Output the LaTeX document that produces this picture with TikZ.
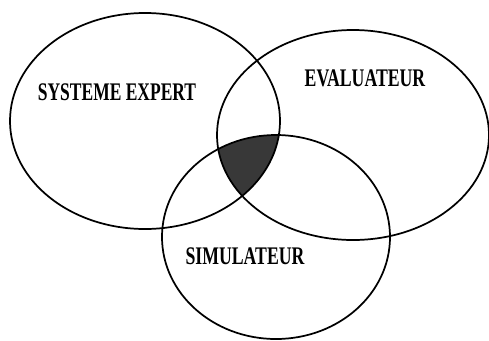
\documentclass[tikz,border=0pt]{standalone}
\usepackage{fontspec}
\setmainfont{Liberation Serif}
\begin{document}
\begin{tikzpicture}[x=0.75pt,y=-0.75pt,
  ring/.style={draw=black,line width=1.3pt},
  lbl/.style={font=\fontsize{19}{21}\selectfont\bfseries,inner sep=0pt}]
\useasboundingbox (0,0) rectangle (489,340);
% shaded triple intersection
\begin{scope}
  \clip (145,121) ellipse [x radius=135, y radius=108];
  \clip (353,135) ellipse [x radius=136, y radius=105];
  \fill[black!78] (276,237) ellipse [x radius=114, y radius=102];
\end{scope}
\draw[ring] (145,121) ellipse [x radius=135, y radius=108];
\draw[ring] (353,135) ellipse [x radius=136, y radius=105];
\draw[ring] (276,237) ellipse [x radius=114, y radius=102];
\node[lbl] (se) at (117,92) {\scalebox{0.69}[1]{SYSTEME EXPERT}};
\node[lbl] (ev) at (365,78) {\scalebox{0.7}[1]{EVALUATEUR}};
\node[lbl] (si) at (245,256) {\scalebox{0.7}[1]{SIMULATEUR}};
\end{tikzpicture}
\end{document}
